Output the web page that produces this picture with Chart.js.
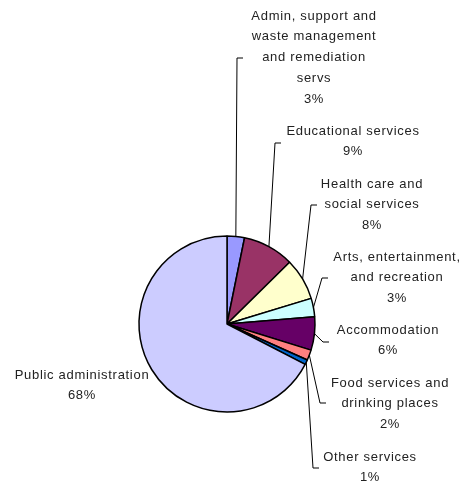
<!DOCTYPE html>
<html>
<head>
<meta charset="utf-8">
<script src="https://cdn.jsdelivr.net/npm/chart.js@4.4.1/dist/chart.umd.min.js"></script>
<style>
  html, body { margin: 0; padding: 0; background: #fff; }
  #canvas-wrap { width: 463px; height: 483px; }
</style>
</head>
<body>
<div id="canvas-wrap"><canvas id="IndustryPieChart"></canvas></div>
<script>
// categories, clockwise from 12 o'clock
const industries = [
    "Admin, support and\nwaste management\nand remediation\nservs",
    "Educational services",
    "Health care and\nsocial services",
    "Arts, entertainment,\nand recreation",
    "Accommodation",
    "Food services and\ndrinking places",
    "Other services",
    "Public administration"
];
const shares = [3.2, 9.4, 7.7, 3.4, 6.1, 1.9, 0.9, 67.4];
const shareLabels = ["3%", "9%", "8%", "3%", "6%", "2%", "1%", "68%"];

const sliceColors = ["#9999FF", "#993366", "#FFFFCC", "#CCFFFF", "#660066", "#FF8080", "#0066CC", "#CCCCFF"];

// where each label sits (center x, middle of first line) and where its leader line bends
const labelSpots = [
    { x: 314, y: 16,  bend: [237, 58] },
    { x: 353, y: 131, bend: [275, 143] },
    { x: 372, y: 184, bend: [311, 205] },
    { x: 397, y: 257, bend: [322, 278] },
    { x: 388, y: 330, bend: [323, 342] },
    { x: 390, y: 383, bend: [320, 403] },
    { x: 370, y: 457, bend: [313, 468] },
    { x: 82,  y: 375, bend: null }
];
const lineHeight = 20.8;

const pieLabels = {
    id: 'pieLabels',
    afterDraw(chart) {
        const ctx = chart.ctx;
        const arcs = chart.getDatasetMeta(0).data;
        ctx.save();
        ctx.strokeStyle = '#000';
        ctx.lineWidth = 1;
        arcs.forEach(function (arc, i) {
            const spot = labelSpots[i];
            if (spot.bend) {
                const p = arc.getProps(['x', 'y', 'startAngle', 'endAngle', 'outerRadius'], true);
                const mid = (p.startAngle + p.endAngle) / 2;
                const ax = p.x + Math.cos(mid) * p.outerRadius;
                const ay = p.y + Math.sin(mid) * p.outerRadius;
                ctx.beginPath();
                ctx.moveTo(ax, ay);
                ctx.lineTo(spot.bend[0], spot.bend[1]);
                ctx.lineTo(spot.bend[0] + 6, spot.bend[1]);
                ctx.stroke();
            }
            const lines = industries[i].split("\n").concat([shareLabels[i]]);
            ctx.fillStyle = '#222';
            ctx.font = '13px "Liberation Sans", Arial, sans-serif';
            ctx.letterSpacing = '0.7px';
            ctx.textAlign = 'center';
            ctx.textBaseline = 'middle';
            lines.forEach(function (t, k) {
                ctx.fillText(t, spot.x, spot.y + k * lineHeight);
            });
        });
        ctx.restore();
    }
};

var ctx = document.getElementById('IndustryPieChart');

var IndustryPieChart = new Chart(ctx, {
    type: 'pie',
    data: {
        labels: industries,
        datasets: [{
            data: shares,
            backgroundColor: sliceColors,
            borderColor: '#000',
            borderWidth: 1.5
        }]
    },
    options: {
        responsive: true,
        maintainAspectRatio: false,
        animation: false,
        radius: 88,
        layout: { padding: { left: 0, right: 9, top: 165, bottom: 0 } },
        plugins: {
            legend: { display: false },
            tooltip: { enabled: false }
        }
    },
    plugins: [pieLabels]
});
</script>
</body>
</html>
